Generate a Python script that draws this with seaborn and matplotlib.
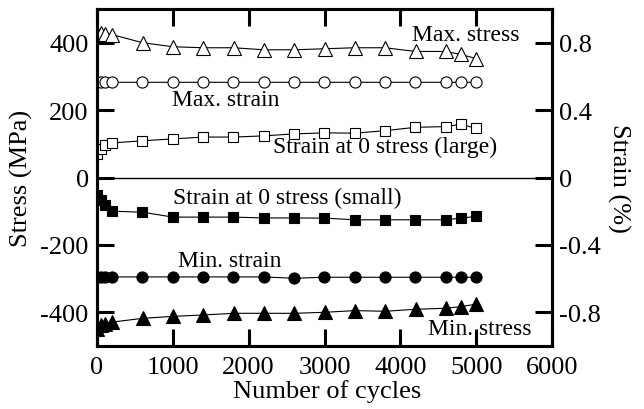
import matplotlib
matplotlib.use('Agg')
import matplotlib.pyplot as plt
import seaborn as sns

# ---- data ----
cycles = [0, 50, 100, 200, 600, 1000, 1400, 1800, 2200, 2600, 3000, 3400, 3800, 4200, 4600, 4800, 5000]
max_stress = [430, 428, 426, 424, 400, 388, 385, 385, 379, 379, 382, 385, 385, 374, 374, 365, 353]
min_stress = [-450, -438, -435, -429, -418, -412, -408, -403, -403, -403, -400, -395, -397, -391, -388, -383, -376]
max_strain = [0.566, 0.566, 0.565, 0.565, 0.565, 0.565, 0.565, 0.565, 0.565, 0.565, 0.565, 0.565, 0.565, 0.565, 0.565, 0.565, 0.565]
min_strain = [-0.59, -0.59, -0.59, -0.59, -0.59, -0.59, -0.59, -0.59, -0.59, -0.598, -0.592, -0.592, -0.592, -0.592, -0.592, -0.592, -0.592]
strain0_large = [0.14, 0.17, 0.19, 0.205, 0.218, 0.229, 0.24, 0.24, 0.247, 0.259, 0.265, 0.263, 0.278, 0.298, 0.302, 0.316, 0.292]
strain0_small = [-0.106, -0.135, -0.165, -0.2, -0.206, -0.235, -0.235, -0.235, -0.24, -0.24, -0.241, -0.251, -0.251, -0.251, -0.251, -0.241, -0.231]

stress_ticks = [-400, -200, 0, 200, 400]
strain_ticks = [-0.8, -0.4, 0, 0.4, 0.8]
strain_ticklabels = ['-0.8', '-0.4', '0', '0.4', '0.8']
x_ticks = [0, 1000, 2000, 3000, 4000, 5000, 6000]

sns.set_theme(style='ticks')
plt.rcParams['font.family'] = ['Liberation Serif', 'DejaVu Serif']
plt.rcParams['axes.unicode_minus'] = False
plt.rcParams['text.color'] = 'black'

fig = plt.figure(figsize=(6.44, 4.10), dpi=100)
ax = fig.add_axes([97/644, 1 - 347/410, 455/644, 337/410])
ax2 = ax.twinx()


def draw(a, y, marker, filled, ms):
    sns.lineplot(x=cycles, y=y, ax=a, color='black', lw=0.8, marker=marker,
                 markersize=ms, markerfacecolor='black' if filled else 'white',
                 markeredgecolor='black', markeredgewidth=0.8, legend=False)


ax.axhline(0, color='black', lw=1.0, zorder=1)
draw(ax, max_stress, '^', False, 9.5)
draw(ax, min_stress, '^', True, 9.5)
draw(ax2, max_strain, 'o', False, 8)
draw(ax2, min_strain, 'o', True, 8)
draw(ax2, strain0_large, 's', False, 7.5)
draw(ax2, strain0_small, 's', True, 7.5)

ax.set_xlim(0, 6000)
ax.set_ylim(-500, 500)
ax2.set_ylim(-1, 1)
ax.set_xticks(x_ticks)
ax.set_xticklabels([str(t) for t in x_ticks])
ax.set_yticks(stress_ticks)
ax.set_yticklabels([str(t) for t in stress_ticks])
ax2.set_yticks(strain_ticks)
ax2.set_yticklabels(strain_ticklabels)

for a in (ax, ax2):
    for s in a.spines.values():
        s.set_linewidth(2.2)
        s.set_color('black')
ax.tick_params(axis='both', direction='in', length=12, width=2.2, labelsize=19,
               colors='black', top=True, right=False)
ax.tick_params(axis='y', pad=6)
ax.tick_params(axis='x', pad=7)
ax2.tick_params(axis='y', direction='in', length=12, width=2.2, labelsize=19,
                colors='black', pad=5)

ax.set_xlabel('Number of cycles', fontsize=19, color='black')
ax.set_ylabel('Stress (MPa)', fontsize=19, color='black')
ax2.set_ylabel('Strain (%)', fontsize=19, color='black', rotation=270, va='bottom')
ax.xaxis.set_label_coords(0.506, -0.098)
ax.yaxis.set_label_coords(-0.141, 0.5)
ax2.yaxis.set_label_coords(1.121, 0.5)

fs = 17
ax.text(4158, 424, 'Max. stress', fontsize=fs, ha='left', va='center', color='black')
ax.text(987, 232, 'Max. strain', fontsize=fs, ha='left', va='center', color='black')
ax.text(2316, 93, 'Strain at 0 stress (large)', fontsize=fs, ha='left', va='center', color='black')
ax.text(1000, -58, 'Strain at 0 stress (small)', fontsize=fs, ha='left', va='center', color='black')
ax.text(1066, -247, 'Min. strain', fontsize=fs, ha='left', va='center', color='black')
ax.text(4368, -447, 'Min. stress', fontsize=fs, ha='left', va='center', color='black')

fig.savefig('out.png', dpi=100)
